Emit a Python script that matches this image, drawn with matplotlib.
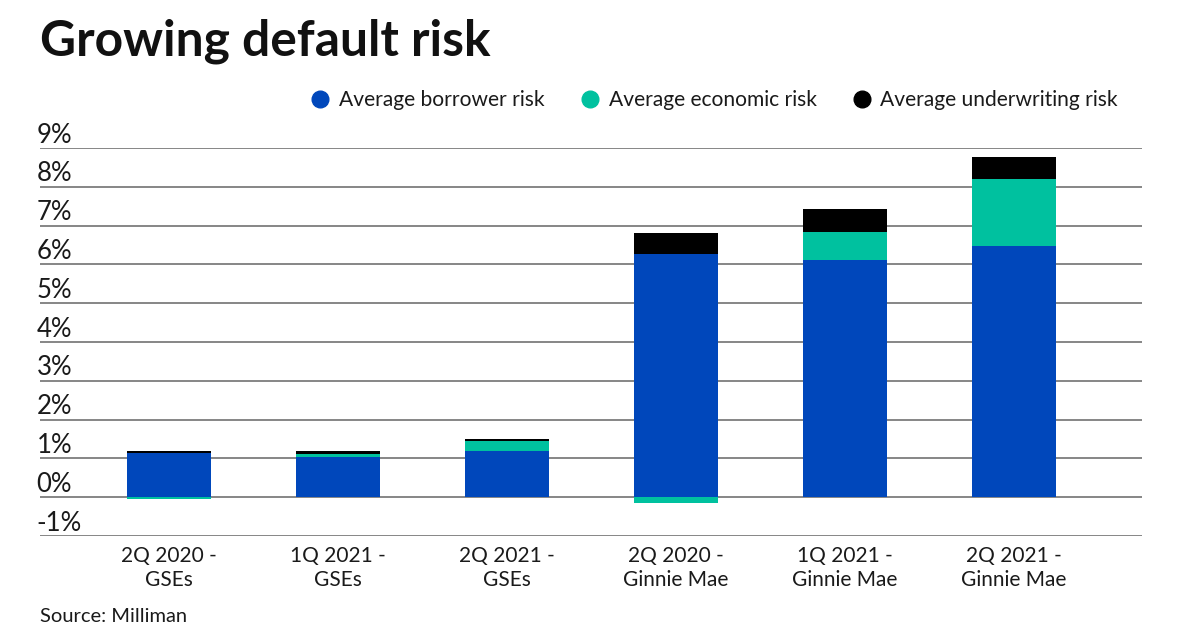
import matplotlib
matplotlib.use("Agg")
import matplotlib.pyplot as plt
from matplotlib.lines import Line2D

plt.rcParams['font.family'] = ['Lato', 'DejaVu Sans']

categories = ["2Q 2020 -\nGSEs", "1Q 2021 -\nGSEs", "2Q 2021 -\nGSEs",
              "2Q 2020 -\nGinnie Mae", "1Q 2021 -\nGinnie Mae", "2Q 2021 -\nGinnie Mae"]
borrower = [1.14, 1.04, 1.18, 6.26, 6.12, 6.48]
economic = [-0.04, 0.08, 0.26, -0.14, 0.71, 1.72]
underwriting = [0.06, 0.07, 0.05, 0.54, 0.59, 0.56]
series_names = ["Average borrower risk", "Average economic risk", "Average underwriting risk"]
colors = ["#0047BB", "#00C19F", "#000000"]
yticks = [-1, 0, 1, 2, 3, 4, 5, 6, 7, 8, 9]
ytick_labels = ["-1%", "0%", "1%", "2%", "3%", "4%", "5%", "6%", "7%", "8%", "9%"]

W, H = 1200, 630
fig = plt.figure(figsize=(12, 6.3), dpi=100)
ax = fig.add_axes([40 / W, 1 - 536 / H, (1142 - 40) / W, (536 - 148) / H])

x = list(range(len(categories)))
width = 0.5
ax.bar(x, borrower, width, color=colors[0], zorder=3)
econ_bottom = [b if e >= 0 else 0 for b, e in zip(borrower, economic)]
ax.bar(x, economic, width, bottom=econ_bottom, color=colors[1], zorder=3)
uw_bottom = [b + max(e, 0) for b, e in zip(borrower, economic)]
ax.bar(x, underwriting, width, bottom=uw_bottom, color=colors[2], zorder=3)

ax.set_xlim(-0.763, 5.757)
ax.set_ylim(-1, 9)
for v in yticks:
    ax.axhline(v, color="#666666", lw=1.1, zorder=1)
for s in ax.spines.values():
    s.set_visible(False)
ax.set_yticks([])
ax.set_xticks(x)
ax.set_xticklabels(categories, fontsize=15, color="#1a1a1a", linespacing=1.25)
ax.tick_params(axis='x', length=0, pad=7)

ytrans = ax.get_yaxis_transform()
for v, lab in zip(yticks, ytick_labels):
    ax.text(-0.003, v + 0.14, lab, transform=ytrans, ha='left', va='baseline',
            fontsize=18.5, color="#1a1a1a")

fig.text(40 / W, 1 - 55 / H, "Growing default risk", fontsize=35.8, fontweight='bold',
         ha='left', va='baseline', color="#111111")

handles = [Line2D([0], [0], marker='o', linestyle='none', markersize=12,
                  markerfacecolor=c, markeredgecolor=c) for c in colors]
fig.legend(handles, series_names, loc='center right', ncol=3, frameon=False,
           bbox_to_anchor=(1137 / W, 1 - 100 / H), fontsize=15.1,
           handlelength=0.8, handletextpad=0.5, columnspacing=1.75,
           labelcolor="#1a1a1a")

fig.text(40 / W, 1 - 617 / H, "Source: Milliman", fontsize=14.5, ha='left', va='center',
         color="#1a1a1a")

fig.savefig("out.png", dpi=100)
